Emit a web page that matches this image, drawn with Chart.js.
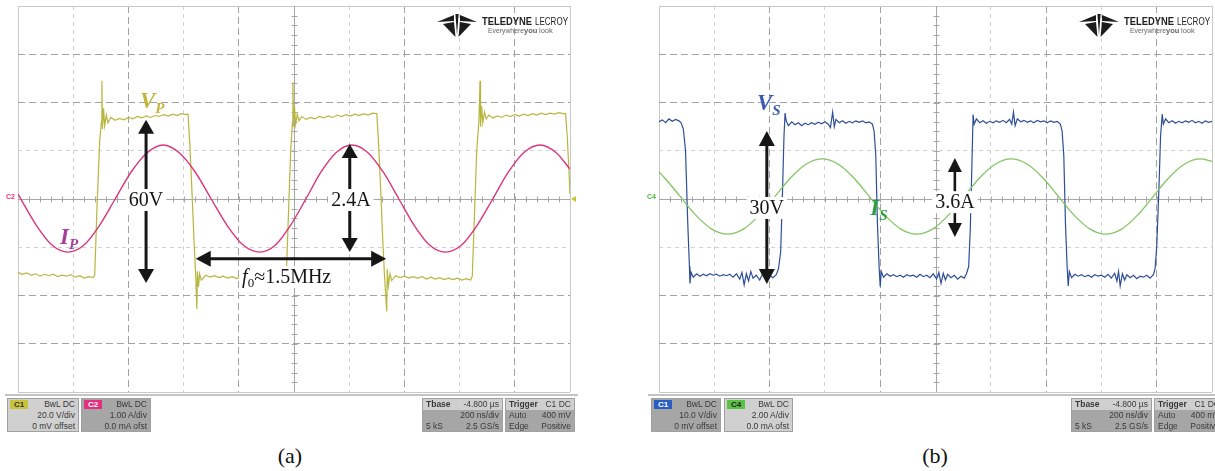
<!DOCTYPE html>
<html>
<head>
<meta charset="utf-8">
<script src="https://cdn.jsdelivr.net/npm/chart.js@4.4.1/dist/chart.umd.min.js"></script>
<style>
body{margin:0;background:#fff;}
#page{position:relative;width:1215px;height:471px;overflow:hidden;background:#fff;font-family:'Liberation Sans',Arial,sans-serif;}
canvas{position:absolute;top:0;}
#ca{left:0;}
#cb{left:620px;}
.rule{position:absolute;top:394px;height:2px;background:#c4c4c4;}
.box{position:absolute;top:398px;height:34px;box-sizing:border-box;border:1px solid #a0a0a0;font-size:8.5px;color:#3a3a3a;overflow:hidden;}
.light{background:#d0d0d0;}
.dark{background:#a6a6a6;}
.tag{position:absolute;left:2px;top:1px;width:18px;height:9px;line-height:9px;font-size:8px;font-weight:bold;text-align:center;}
.ln{height:11px;line-height:11px;text-align:right;padding-right:3px;white-space:nowrap;}
.row{display:flex;justify-content:space-between;height:11px;line-height:11px;padding:0 3px;white-space:nowrap;}
.hd{background:#cfcfcf;}
.hd span:first-child{font-weight:bold;}
.cap{position:absolute;top:445px;width:100px;text-align:center;font:22px 'Liberation Serif','Times New Roman',serif;line-height:22px;color:#111;}
</style>
</head>
<body>
<div id="page">
  <canvas id="ca" width="600" height="400"></canvas>
  <canvas id="cb" width="595" height="400"></canvas>

  <!-- status bar (a) -->
  <div class="rule" style="left:5px;width:573px"></div>
  <div class="box light" style="left:7px;width:72px">
    <span class="tag" style="background:#c9c33b;color:#333">C1</span>
    <div class="ln">BwL DC</div><div class="ln">20.0 V/div</div><div class="ln">0 mV offset</div>
  </div>
  <div class="box dark" style="left:81px;width:70px">
    <span class="tag" style="background:#e2307f;color:#fff">C2</span>
    <div class="ln">BwL DC</div><div class="ln">1.00 A/div</div><div class="ln">0.0 mA ofst</div>
  </div>
  <div class="box dark" style="left:422px;width:81px">
    <div class="row hd"><span>Tbase</span><span>-4.800 µs</span></div>
    <div class="row"><span></span><span>200 ns/div</span></div>
    <div class="row"><span>5 kS</span><span>2.5 GS/s</span></div>
  </div>
  <div class="box dark" style="left:505px;width:70px">
    <div class="row hd"><span>Trigger</span><span>C1 DC</span></div>
    <div class="row"><span>Auto</span><span>400 mV</span></div>
    <div class="row"><span>Edge</span><span>Positive</span></div>
  </div>

  <!-- status bar (b) -->
  <div class="rule" style="left:648px;width:567px"></div>
  <div class="box dark" style="left:651px;width:70px">
    <span class="tag" style="background:#2b5ec4;color:#fff">C1</span>
    <div class="ln">BwL DC</div><div class="ln">10.0 V/div</div><div class="ln">0 mV offset</div>
  </div>
  <div class="box light" style="left:724px;width:69px">
    <span class="tag" style="background:#5cc244;color:#222">C4</span>
    <div class="ln">BwL DC</div><div class="ln">2.00 A/div</div><div class="ln">0.0 mA ofst</div>
  </div>
  <div class="box dark" style="left:1071px;width:81px">
    <div class="row hd"><span>Tbase</span><span>-4.800 µs</span></div>
    <div class="row"><span></span><span>200 ns/div</span></div>
    <div class="row"><span>5 kS</span><span>2.5 GS/s</span></div>
  </div>
  <div class="box dark" style="left:1154px;width:70px">
    <div class="row hd"><span>Trigger</span><span>C1 DC</span></div>
    <div class="row"><span>Auto</span><span>400 mV</span></div>
    <div class="row"><span>Edge</span><span>Positive</span></div>
  </div>

  <div class="cap" style="left:240px">(a)</div>
  <div class="cap" style="left:885px">(b)</div>
</div>

<script>
const X_RANGE = [0, 10];
const Y_RANGE = [-4, 4];
const LIGHT_X = [1, 3, 6, 8];
const LIGHT_Y = [1, -1];

// (a) primary voltage V_P (C1, 20 V/div)
const vpPoints = [
 [0.00,-1.52],[0.08,-1.56],[0.16,-1.53],[0.24,-1.58],[0.32,-1.55],[0.40,-1.60],[0.48,-1.56],[0.56,-1.59],[0.64,-1.56],[0.72,-1.61],[0.80,-1.58],[0.88,-1.60],[0.96,-1.57],[1.04,-1.62],[1.12,-1.59],[1.20,-1.64],[1.28,-1.61],[1.36,-1.63],
 [1.39,-1.58],[1.43,-0.20],[1.48,1.20],[1.51,1.60],[1.52,2.45],[1.53,1.45],[1.55,1.88],[1.57,1.52],[1.60,1.74],[1.63,1.58],[1.68,1.69],
 [1.76,1.63],[1.84,1.67],[1.92,1.64],[2.00,1.69],[2.08,1.66],[2.16,1.71],[2.24,1.68],[2.32,1.72],[2.40,1.69],[2.48,1.73],[2.56,1.71],[2.64,1.75],[2.72,1.72],[2.80,1.76],[2.88,1.73],[2.96,1.77],[3.04,1.75],[3.08,1.76],
 [3.11,1.20],[3.15,0.20],[3.19,-0.90],[3.22,-1.60],[3.24,-2.28],[3.25,-1.50],[3.27,-1.82],[3.29,-1.55],[3.32,-1.68],
 [3.40,-1.58],[3.48,-1.62],[3.56,-1.59],[3.64,-1.63],[3.72,-1.60],[3.80,-1.64],[3.88,-1.61],[3.96,-1.65],[4.04,-1.62],[4.12,-1.66],[4.20,-1.63],[4.28,-1.65],[4.36,-1.62],[4.44,-1.67],[4.52,-1.64],[4.60,-1.66],[4.68,-1.63],[4.76,-1.67],[4.83,-1.66],
 [4.86,-1.60],[4.90,-0.30],[4.94,1.00],[4.97,1.55],[4.98,2.42],[4.99,1.50],[5.01,1.90],[5.03,1.55],[5.06,1.76],[5.09,1.62],[5.14,1.71],
 [5.22,1.65],[5.30,1.69],[5.38,1.66],[5.46,1.71],[5.54,1.68],[5.62,1.72],[5.70,1.69],[5.78,1.74],[5.86,1.71],[5.94,1.75],[6.02,1.72],[6.10,1.76],[6.18,1.73],[6.26,1.77],[6.34,1.74],[6.42,1.78],[6.50,1.77],
 [6.53,1.20],[6.57,0.20],[6.61,-0.90],[6.64,-1.60],[6.68,-2.33],[6.69,-1.45],[6.71,-1.80],[6.74,-1.55],[6.77,-1.69],
 [6.84,-1.59],[6.92,-1.63],[7.00,-1.60],[7.08,-1.64],[7.16,-1.61],[7.24,-1.64],[7.32,-1.61],[7.40,-1.66],[7.48,-1.62],[7.56,-1.66],[7.64,-1.63],[7.72,-1.67],[7.80,-1.64],[7.88,-1.67],[7.96,-1.64],[8.04,-1.68],[8.12,-1.65],[8.20,-1.68],
 [8.23,-1.60],[8.27,-0.30],[8.31,1.00],[8.35,1.60],[8.37,2.45],[8.38,1.50],[8.40,1.92],[8.42,1.58],[8.45,1.80],[8.48,1.66],[8.53,1.74],
 [8.60,1.68],[8.68,1.72],[8.76,1.69],[8.84,1.74],[8.92,1.71],[9.00,1.75],[9.08,1.72],[9.16,1.76],[9.24,1.73],[9.32,1.77],[9.40,1.74],[9.48,1.78],[9.56,1.75],[9.64,1.78],[9.72,1.76],[9.80,1.79],[9.88,1.77],[9.92,1.77],
 [9.95,1.30],[9.98,0.60],[10.00,0.10]
];

// (a) primary current I_P (C2, 1 A/div)
const ipPoints = [
 [0,0.10],[0.335,-0.55],[0.62,-0.96],[0.905,-1.10],[1.19,-0.96],[1.475,-0.55],[1.76,0.00],[2.05,0.56],[2.34,0.96],[2.63,1.12],[2.92,0.96],[3.21,0.56],
 [3.50,0.00],[3.79,-0.55],[4.085,-0.96],[4.38,-1.10],[4.66,-0.96],[4.935,-0.55],[5.215,0.00],[5.49,0.56],[5.77,0.97],[6.05,1.12],[6.33,0.97],[6.615,0.56],
 [6.90,0.00],[7.18,-0.55],[7.46,-0.96],[7.74,-1.10],[8.03,-0.96],[8.315,-0.55],[8.60,0.00],[8.885,0.56],[9.17,0.97],[9.46,1.12],[9.75,0.96],[10.0,0.62]
];

// (b) secondary voltage V_S (C1, 10 V/div)
const vsPoints = [
 [0.00,1.60],[0.06,1.64],[0.12,1.58],[0.18,1.66],[0.24,1.61],[0.30,1.65],[0.36,1.62],[0.40,1.58],[0.44,1.45],[0.48,1.00],[0.52,-0.50],[0.55,-1.40],[0.56,-1.75],[0.58,-1.52],[0.62,-1.62],
 [0.68,-1.55],[0.74,-1.60],[0.80,-1.56],[0.86,-1.59],[0.92,-1.55],[0.98,-1.58],[1.04,-1.56],[1.10,-1.60],[1.16,-1.57],[1.22,-1.59],[1.28,-1.56],[1.34,-1.62],[1.40,-1.55],[1.46,-1.66],[1.50,-1.52],[1.54,-1.78],[1.58,-1.55],[1.62,-1.70],[1.66,-1.50],[1.70,-1.64],[1.76,-1.58],[1.82,-1.68],[1.88,-1.54],[1.94,-1.62],[2.00,-1.58],[2.06,-1.63],[2.12,-1.57],
 [2.16,-1.45],[2.20,-1.10],[2.23,0.00],[2.26,1.30],[2.28,1.78],[2.30,1.62],[2.34,1.52],
 [2.40,1.60],[2.46,1.54],[2.52,1.58],[2.58,1.52],[2.64,1.57],[2.70,1.54],[2.76,1.58],[2.82,1.55],[2.88,1.59],[2.94,1.56],[3.00,1.60],[3.06,1.55],[3.10,1.48],[3.14,1.80],[3.17,1.50],[3.20,1.65],[3.26,1.58],[3.32,1.62],[3.38,1.57],[3.44,1.61],[3.50,1.58],[3.56,1.62],[3.62,1.59],[3.68,1.62],[3.74,1.58],[3.80,1.60],[3.86,1.55],
 [3.89,1.40],[3.92,0.90],[3.95,-0.50],[3.98,-1.40],[4.00,-1.82],[4.02,-1.50],[4.06,-1.62],
 [4.12,-1.55],[4.18,-1.60],[4.24,-1.57],[4.30,-1.61],[4.36,-1.58],[4.42,-1.62],[4.48,-1.57],[4.54,-1.60],[4.60,-1.58],[4.66,-1.62],[4.72,-1.56],[4.78,-1.61],[4.84,-1.58],[4.90,-1.63],[4.96,-1.55],[5.02,-1.66],[5.06,-1.52],[5.10,-1.75],[5.14,-1.54],[5.18,-1.68],[5.22,-1.56],[5.28,-1.63],[5.34,-1.58],[5.40,-1.66],[5.46,-1.60],[5.52,-1.64],[5.56,-1.55],
 [5.60,-1.40],[5.63,-0.60],[5.66,0.80],[5.68,1.75],[5.70,1.55],[5.74,1.66],
 [5.80,1.58],[5.86,1.62],[5.92,1.57],[5.98,1.61],[6.04,1.58],[6.10,1.62],[6.16,1.59],[6.22,1.63],[6.28,1.58],[6.34,1.65],[6.38,1.55],[6.41,1.80],[6.44,1.52],[6.48,1.66],[6.54,1.60],[6.60,1.63],[6.66,1.59],[6.72,1.62],[6.78,1.58],[6.84,1.63],[6.90,1.60],[6.96,1.62],[7.02,1.58],[7.08,1.62],[7.14,1.59],[7.20,1.61],[7.26,1.55],
 [7.29,1.40],[7.32,0.90],[7.35,-0.50],[7.38,-1.40],[7.40,-1.80],[7.42,-1.50],[7.46,-1.63],
 [7.52,-1.56],[7.58,-1.60],[7.64,-1.57],[7.70,-1.61],[7.76,-1.58],[7.82,-1.62],[7.88,-1.57],[7.94,-1.60],[8.00,-1.58],[8.06,-1.62],[8.12,-1.56],[8.18,-1.64],[8.24,-1.54],[8.28,-1.70],[8.31,-1.50],[8.34,-1.80],[8.38,-1.55],[8.42,-1.68],[8.46,-1.57],[8.52,-1.63],[8.58,-1.58],[8.64,-1.65],[8.70,-1.60],[8.76,-1.62],[8.82,-1.58],[8.88,-1.64],[8.94,-1.57],
 [8.97,-1.45],[9.00,-1.00],[9.04,0.20],[9.07,1.30],[9.10,1.76],[9.12,1.55],[9.16,1.66],
 [9.22,1.58],[9.28,1.62],[9.34,1.57],[9.40,1.61],[9.46,1.58],[9.52,1.62],[9.58,1.59],[9.64,1.63],[9.70,1.58],[9.76,1.61],[9.82,1.57],[9.88,1.62],[9.94,1.59],[10.0,1.61]
];

// (b) secondary current I_S (C4, 2 A/div)
const isPoints = [
 [0,0.56],[0.10,0.44],[0.385,0.05],[0.67,-0.34],[0.955,-0.625],[1.24,-0.73],[1.525,-0.625],[1.81,-0.34],[2.095,0.05],[2.38,0.44],[2.665,0.725],[2.95,0.83],
 [3.235,0.725],[3.52,0.44],[3.805,0.05],[4.09,-0.34],[4.375,-0.625],[4.66,-0.73],[4.945,-0.625],[5.23,-0.34],[5.515,0.05],[5.80,0.44],[6.085,0.725],[6.37,0.83],
 [6.655,0.725],[6.94,0.44],[7.225,0.05],[7.51,-0.34],[7.795,-0.625],[8.08,-0.73],[8.365,-0.625],[8.65,-0.34],[8.935,0.05],[9.22,0.44],[9.505,0.725],[9.79,0.83],[10.0,0.78]
];

const SERIF = "'Liberation Serif','Times New Roman',serif";

function drawArrow(ctx, x1, y1, x2, y2, head, half, lw){
  const dx = x2-x1, dy = y2-y1, len = Math.hypot(dx,dy);
  const ux = dx/len, uy = dy/len, px = -uy, py = ux;
  ctx.strokeStyle = '#161616'; ctx.fillStyle = '#161616'; ctx.lineWidth = lw;
  ctx.beginPath();
  ctx.moveTo(x1+ux*head*0.8, y1+uy*head*0.8);
  ctx.lineTo(x2-ux*head*0.8, y2-uy*head*0.8);
  ctx.stroke();
  [[x1,y1,1],[x2,y2,-1]].forEach(([tx,ty,s])=>{
    const bx = tx+ux*head*s, by = ty+uy*head*s;
    ctx.beginPath();
    ctx.moveTo(tx,ty);
    ctx.lineTo(bx+px*half, by+py*half);
    ctx.lineTo(bx-px*half, by-py*half);
    ctx.closePath(); ctx.fill();
  });
}

function drawRich(ctx, lb, px, py){
  let w = 0;
  lb.parts.forEach(p=>{ ctx.font = p.f; w += ctx.measureText(p.t).width; });
  let sx = lb.anchor==='center' ? px - w/2 : px;
  if(lb.bg){
    ctx.fillStyle = '#fff';
    ctx.fillRect(sx-3, py-17, w+6, 22);
  }
  ctx.textBaseline = 'alphabetic';
  ctx.textAlign = 'left';
  lb.parts.forEach(p=>{
    ctx.font = p.f; ctx.fillStyle = lb.color;
    ctx.fillText(p.t, sx, py+(p.dy||0));
    sx += ctx.measureText(p.t).width;
  });
}

function tri(ctx, pts){
  ctx.beginPath(); ctx.moveTo(pts[0][0],pts[0][1]);
  pts.slice(1).forEach(p=>ctx.lineTo(p[0],p[1]));
  ctx.closePath(); ctx.fill();
}

const scopeDeco = {
  id:'scopeDeco',
  beforeDatasetsDraw(chart){
    const {ctx, chartArea:a, scales:{x,y}} = chart;
    const cx = Math.round(x.getPixelForValue(5))+0.5;
    const cy = Math.round(y.getPixelForValue(0))+0.5;
    ctx.save();
    ctx.strokeStyle = '#a6a6a6'; ctx.lineWidth = 1;
    ctx.beginPath();
    ctx.moveTo(a.left,cy); ctx.lineTo(a.right,cy);
    ctx.moveTo(cx,a.top); ctx.lineTo(cx,a.bottom);
    for(let i=1;i<50;i++){ const p = Math.round(x.getPixelForValue(i/5))+0.5; ctx.moveTo(p,cy-3); ctx.lineTo(p,cy+3); }
    for(let i=1;i<40;i++){ const p = Math.round(y.getPixelForValue(-4+i/5))+0.5; ctx.moveTo(cx-3,p); ctx.lineTo(cx+3,p); }
    ctx.stroke();
    ctx.restore();
  },
  afterDatasetsDraw(chart, args, o){
    const {ctx, scales:{x,y}} = chart;
    ctx.save();
    (o.arrows||[]).forEach(r=>drawArrow(ctx, x.getPixelForValue(r.x1), y.getPixelForValue(r.y1), x.getPixelForValue(r.x2), y.getPixelForValue(r.y2), r.head, r.half, r.lw));
    (o.labels||[]).forEach(l=>drawRich(ctx, l, x.getPixelForValue(l.x), y.getPixelForValue(l.y)));
    ctx.restore();
  },
  afterDraw(chart, args, o){
    const {ctx, chartArea:a, scales:{y}} = chart;
    const cy = y.getPixelForValue(0);
    ctx.save();
    // channel markers beside the screen
    if(o.tag){
      ctx.font = 'bold 7px Liberation Sans'; ctx.fillStyle = o.tag.color;
      ctx.textBaseline = 'middle'; ctx.textAlign = 'right';
      ctx.fillText(o.tag.text, a.left-3, cy-2);
    }
    if(o.mark){
      ctx.fillStyle = o.mark;
      tri(ctx, [[a.right+1,cy],[a.right+6,cy-3],[a.right+6,cy+3]]);
    }
    // Teledyne LeCroy logo
    const lx = a.right-113, ly = 13;
    ctx.fillStyle = '#1c1c1c';
    tri(ctx, [[lx-20,ly+9],[lx-3,ly+2],[lx-3,ly+8]]);
    tri(ctx, [[lx-14,ly+11],[lx-3,ly+9],[lx-1.5,ly+24]]);
    tri(ctx, [[lx+20,ly+9],[lx+3,ly+2],[lx+3,ly+8]]);
    tri(ctx, [[lx+14,ly+11],[lx+3,ly+9],[lx+1.5,ly+24]]);
    tri(ctx, [[lx-1.6,ly+1],[lx+1.6,ly+1],[lx,ly+22]]);
    const tx = a.right-88;
    ctx.textBaseline = 'alphabetic'; ctx.textAlign = 'left';
    ctx.fillStyle = '#222';
    ctx.font = 'bold 10px Liberation Sans';
    ctx.fillText('TELEDYNE', tx, 25, 50);
    ctx.font = '10px Liberation Sans';
    ctx.fillText('LECROY', tx+53, 25, 33);
    ctx.fillStyle = '#666';
    ctx.font = '7.5px Liberation Sans';
    ctx.fillText('Everywhere', tx+6, 33, 36);
    ctx.font = 'bold 7.5px Liberation Sans';
    ctx.fillText('you', tx+42, 33, 14);
    ctx.font = '7.5px Liberation Sans';
    ctx.fillText('look', tx+57, 33, 17);
    ctx.restore();
  }
};

function screenScale(min, max, center, lightList){
  return {
    type:'linear', min, max,
    ticks:{display:false, stepSize:1},
    grid:{drawTicks:false, lineWidth:1,
      color:c=>{
        if(!c.tick) return '#c6c6c6';
        const v = c.tick.value;
        if(v===min || v===max) return '#c8c8c8';
        if(v===center) return 'rgba(0,0,0,0)';
        return lightList.includes(v) ? '#d2d2d2' : '#a2a2a2';
      }},
    border:{display:false,
      dash:c=>{
        if(!c.tick) return [];
        const v = c.tick.value;
        if(v===min || v===max || v===center) return [];
        return lightList.includes(v) ? [4,4] : [7,4];
      }}
  };
}

function makeScope(id, traces, pad, deco){
  return new Chart(document.getElementById(id), {
    type:'scatter',
    data:{datasets:traces.map(t=>({
      data:t.points.map(([x,y])=>({x,y})),
      showLine:true, pointRadius:0, borderColor:t.color, borderWidth:t.width,
      tension:0, cubicInterpolationMode:t.smooth ? 'monotone' : 'default'
    }))},
    options:{
      responsive:false, animation:false, devicePixelRatio:1,
      layout:{padding:pad},
      plugins:{legend:{display:false}, tooltip:{enabled:false}, scopeDeco:deco},
      scales:{
        x:screenScale(X_RANGE[0], X_RANGE[1], 5, LIGHT_X),
        y:screenScale(Y_RANGE[0], Y_RANGE[1], 0, LIGHT_Y)
      }
    },
    plugins:[scopeDeco]
  });
}

makeScope('ca', [
  {points:ipPoints, color:'#d8367e', width:1.4, smooth:true},
  {points:vpPoints, color:'#b8b63e', width:1.2, smooth:false}
], {left:18, right:30, top:6, bottom:8}, {
  tag:{text:'C2', color:'#e0307c'}, mark:'#c9c33b',
  arrows:[
    {x1:2.32, y1:1.64, x2:2.32, y2:-1.74, head:14, half:8, lw:3},
    {x1:6.01, y1:1.14, x2:6.01, y2:-1.10, head:14, half:8, lw:3},
    {x1:3.22, y1:-1.24, x2:6.67, y2:-1.24, head:15, half:8, lw:3}
  ],
  labels:[
    {x:2.32, y:-0.145, anchor:'center', bg:true, color:'#161616', parts:[{t:'60V', f:'20px '+SERIF}]},
    {x:6.03, y:-0.145, anchor:'center', bg:true, color:'#161616', parts:[{t:'2.4A', f:'20px '+SERIF}]},
    {x:4.06, y:-1.74, anchor:'left', bg:true, color:'#161616', parts:[{t:'f', f:'italic 20px '+SERIF},{t:'0', f:'13px '+SERIF, dy:4},{t:'≈1.5MHz', f:'20px '+SERIF}]},
    {x:2.21, y:1.886, anchor:'left', color:'#c4b63a', parts:[{t:'V', f:'italic bold 23px '+SERIF},{t:'P', f:'italic bold 15px '+SERIF, dy:5}]},
    {x:0.76, y:-0.93, anchor:'left', color:'#a43f9e', parts:[{t:'I', f:'italic bold 23px '+SERIF},{t:'P', f:'italic bold 15px '+SERIF, dy:5}]}
  ]
});

makeScope('cb', [
  {points:isPoints, color:'#82c562', width:1.3, smooth:true},
  {points:vsPoints, color:'#2e4f98', width:1.2, smooth:false}
], {left:39, right:3, top:6, bottom:8}, {
  tag:{text:'C4', color:'#4fb43a'}, mark:null,
  arrows:[
    {x1:1.95, y1:1.41, x2:1.95, y2:-1.76, head:15, half:8, lw:3},
    {x1:5.35, y1:0.85, x2:5.35, y2:-0.79, head:14, half:7, lw:2.6}
  ],
  labels:[
    {x:1.95, y:-0.31, anchor:'center', bg:true, color:'#161616', parts:[{t:'30V', f:'20px '+SERIF}]},
    {x:5.35, y:-0.19, anchor:'center', bg:true, color:'#161616', parts:[{t:'3.6A', f:'20px '+SERIF}]},
    {x:1.77, y:1.84, anchor:'left', color:'#3a5cb0', parts:[{t:'V', f:'italic bold 23px '+SERIF},{t:'S', f:'italic bold 15px '+SERIF, dy:5}]},
    {x:3.82, y:-0.33, anchor:'left', color:'#2f9e46', parts:[{t:'I', f:'italic bold 23px '+SERIF},{t:'S', f:'italic bold 15px '+SERIF, dy:5}]}
  ]
});
</script>
</body>
</html>
